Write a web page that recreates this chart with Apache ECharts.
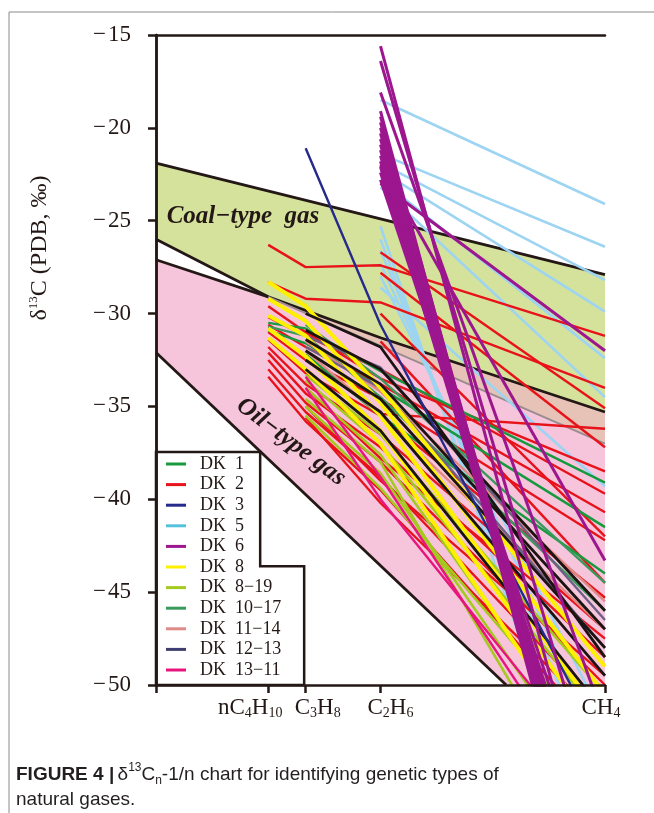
<!DOCTYPE html>
<html>
<head>
<meta charset="utf-8">
<script src="https://cdn.jsdelivr.net/npm/echarts@6.0.0/dist/echarts.min.js"></script>
<style>
html, body { margin: 0; padding: 0; background: #fff; }
#chart { width: 654px; height: 813px; }
</style>
</head>
<body>
<div id="chart"></div>
<script>
// 1/n positions of nC4H10, C3H8, C2H6, CH4
var xInv = [0.25, 1 / 3, 0.5, 1];
var xTickValues = [0, 1 / 3, 0.5, 1];

// zone boundaries [1/n, δ13C]
var coalUpper = [[0, -21.9], [1, -27.9]];
var coalLower = [[0, -26.0], [0.25, -29.1], [0.5, -31.3], [1, -35.3]];
var oilUpper = [[0, -27.1], [0.25, -29.1]];
var mixLower = [[0.25, -29.1], [1, -37.0]];
var oilLower = [[0, -32.1], [0.78, -50]];
var legendBox = [[0, -37.45], [0.232, -37.45], [0.232, -43.6], [0.33, -43.6], [0.33, -50], [0, -50]];

// samples: [δC4, δC3, δC2, δC1]
var dk1 = [
	[-30.5, -30.8, -33.1, -39.1],
	[-30.9, -31.6, -34.0, -41.5],
	[null, -32.2, -35.5, -44.0]
];
var dk2 = [
	[-26.3, -27.5, -27.4, -31.2],
	[-28.3, -29.2, -29.4, -34.0],
	[null, null, -26.7, -35.1],
	[null, null, -27.8, -37.2],
	[null, null, -35.4, -36.2],
	[-29.6, -31.0, -33.5, -38.5],
	[-30.2, -31.2, -33.0, -39.7],
	[-30.6, -31.8, -33.8, -40.7],
	[-31.0, -32.5, -34.6, -42.2],
	[-31.4, -33.2, -35.5, -45.3],
	[-31.8, -33.8, -36.5, -47.0],
	[-32.1, -34.3, -37.2, -48.5],
	[-32.5, -34.8, -38.0, -50.0],
	[-33.0, -35.3, -38.8, -51.5],
	[-33.4, -35.8, -39.5, -53.0],
	[null, -34.0, -37.8, -47.5],
	[null, -35.0, -39.0, -49.5],
	[null, -35.6, -40.2, -52.0],
	[null, null, -31.5, -44.5],
	[null, null, -30.0, -42.0]
];
var dk3 = [
	[null, -21.1, -30.6, -53.5]
];
var dk5 = [
	[null, null, -18.5, -24.1],
	[null, null, -21.4, -26.4],
	[null, null, -21.9, -28.2],
	[null, null, -22.3, -29.9],
	[null, null, -22.8, -32.4],
	[null, null, -23.2, -34.5],
	[null, null, -25.3, -61.0],
	[null, null, -26.0, -59.0],
	[null, null, -26.6, -56.0],
	[null, null, -27.3, -54.0],
	[null, null, -28.0, -52.0],
	[null, null, -28.6, -39.3]
];
var dk6 = [
	[null, null, -15.6, -60.5],
	[null, null, -16.4, -57.5],
	[null, null, -18.1, -52.0],
	[null, null, -19.1, -64.0],
	[null, null, -19.4, -63.0],
	[null, null, -19.7, -64.5],
	[null, null, -20.0, -62.0],
	[null, null, -20.3, -63.5],
	[null, null, -20.6, -61.5],
	[null, null, -20.9, -63.0],
	[null, null, -21.2, -62.0],
	[null, null, -21.5, -61.0],
	[null, null, -21.8, -60.5],
	[null, null, -22.1, -62.0],
	[null, null, -22.4, -60.0],
	[null, null, -22.8, -59.0],
	[null, null, -22.0, -43.3],
	[null, null, -23.0, -32.0]
];
var dk8 = [
	[-28.3, -29.6, -34.0, -49.0],
	[-29.2, -30.4, -34.8, -50.5],
	[-30.1, -31.2, -35.5, -52.0],
	[-30.8, -32.3, -36.3, -53.0],
	[-31.3, -33.0, -37.0, -55.0]
];
var dk819 = [
	[null, -33.3, -36.5, -50.5],
	[null, -33.6, -37.0, -52.0],
	[null, -34.0, -37.6, -54.5],
	[null, -34.6, -38.0, -58.5],
	[null, -35.0, -38.6, -56.0],
	[null, -35.5, -39.4, -53.5]
];
var dk1017 = [
	[null, -30.6, -33.5, -44.5],
	[-30.7, -31.2, -34.5, -46.0]
];
var dk1114 = [
	[null, -31.5, -34.2, -45.5],
	[null, -32.0, -35.5, -47.0]
];
var dk1213 = [
	[null, -31.2, -32.9, -46.5],
	[null, -31.8, -34.0, -48.0]
];
var dk1311 = [
	[null, -33.4, -38.8, -57.0],
	[null, -34.0, -40.0, -55.0]
];
var darkLines = [
	[null, -30.0, -31.8, -48.5],
	[null, -30.9, -33.0, -46.0],
	[null, -31.4, -33.8, -47.0],
	[null, -32.0, -34.6, -48.0],
	[null, -32.5, -35.3, -49.5],
	[null, -33.0, -36.3, -51.5]
];

var ink = '#231815';
var serif = 'Liberation Serif';

function zone(points, color, z, stroke) {
	return {
		type: 'custom',
		silent: true,
		z: z,
		data: [[0, -50]],
		renderItem: function (params, api) {
			return {
				type: 'polygon',
				shape: { points: points.map(function (p) { return api.coord(p); }) },
				style: { fill: color, stroke: stroke || null, lineWidth: stroke ? 2.5 : 0 }
			};
		}
	};
}

function border(points, color, width) {
	return {
		type: 'line', data: points, symbol: 'none', silent: true, z: 2,
		lineStyle: { color: color, width: width }
	};
}

function samples(name, rows, color, width) {
	return rows.map(function (row) {
		var pts = [];
		row.forEach(function (v, i) {
			if (v !== null) pts.push([xInv[i], v]);
		});
		return {
			name: name, type: 'line', data: pts, symbol: 'none', silent: true, z: 3,
			lineStyle: { color: color, width: width }, itemStyle: { color: color }
		};
	});
}

var coalZone = coalUpper.concat(coalLower.slice().reverse());
var oilZone = oilUpper.concat([mixLower[1], [1, -50]], oilLower.slice().reverse());
var mixZone = coalLower.slice(1).concat([mixLower[1]]);

var legendItems = [
	['DK 1', '#179a3f'], ['DK 2', '#e8121a'], ['DK 3', '#262a8a'], ['DK 5', '#55c2dc'],
	['DK 6', '#9c168e'], ['DK 8', '#fff000'], ['DK 8−19', '#a4c91f'], ['DK 10−17', '#3a9a5e'],
	['DK 11−14', '#df8a86'], ['DK 12−13', '#403e70'], ['DK 13−11', '#e8157f']
];

var xLabelText = [
	'{m|nC}{s|4}{m|H}{s|10}{r36| }',
	'{l24| }{m|C}{s|3}{m|H}{s|8}',
	'{l20| }{m|C}{s|2}{m|H}{s|6}',
	'{m|CH}{s|4}{r8| }'
];

var labelRich = {
	m: { fontFamily: serif, fontSize: 23, lineHeight: 24, color: ink },
	s: { fontFamily: serif, fontSize: 14, lineHeight: 6, verticalAlign: 'bottom', color: ink },
	r36: { width: 36 }, r8: { width: 8 }, l24: { width: 24 }, l20: { width: 20 }
};

function xLabel(v) {
	for (var i = 0; i < xInv.length; i++) {
		if (Math.abs(xInv[i] - v) < 1e-6) return xLabelText[i];
	}
	return '';
}

var myChart = echarts.init(document.getElementById('chart'));
var option = {
	backgroundColor: '#fff',
	animation: false,
	grid: { left: 156, right: 49, top: 35, bottom: 128 },
	legend: {
		orient: 'vertical',
		left: 166,
		top: 455,
		padding: 0,
		itemGap: 2.6,
		itemWidth: 20,
		itemHeight: 3,
		icon: 'rect',
		selectedMode: false,
		z: 10,
		textStyle: { fontFamily: serif, fontSize: 18, lineHeight: 18, color: ink, padding: [0, 0, 0, 9] },
		formatter: function (name) { return name.replace(' ', '  '); },
		data: legendItems.map(function (it) {
			return { name: it[0], itemStyle: { color: it[1] } };
		})
	},
	xAxis: [{
		type: 'value', min: 0, max: 1, position: 'bottom', z: 10,
		axisLine: { lineStyle: { color: ink, width: 2.5 } },
		axisTick: { length: 8, lineStyle: { color: ink, width: 2.5 }, customValues: xTickValues },
		splitLine: { show: false },
		axisLabel: {
			customValues: xInv.slice(1), hideOverlap: false, margin: 11, color: ink,
			formatter: xLabel, rich: labelRich
		}
	}, {
		type: 'value', min: 0, max: 1, position: 'top', z: 10,
		axisLine: { lineStyle: { color: ink, width: 2.5 } },
		axisTick: { show: false }, axisLabel: { show: false }, splitLine: { show: false }
	}, {
		type: 'value', min: 0, max: 1, position: 'bottom', z: 10,
		axisLine: { show: false },
		axisTick: { show: true, length: 8, lineStyle: { color: ink, width: 2.5 }, customValues: xInv.slice(0, 1) },
		splitLine: { show: false },
		axisLabel: {
			customValues: xInv.slice(0, 1), hideOverlap: false, margin: 11, color: ink,
			formatter: xLabel, rich: labelRich
		}
	}],
	yAxis: [{
		type: 'value', min: -50, max: -15, interval: 5, z: 10,
		axisLine: { lineStyle: { color: ink, width: 2.5 } },
		axisTick: { length: 8, lineStyle: { color: ink, width: 2.5 } },
		splitLine: { show: false },
		axisLabel: {
			margin: 25, fontFamily: serif, fontSize: 23, color: ink,
			formatter: function (v) { return '\u2212\u200a' + Math.abs(v); }
		}
	}, {
		type: 'value', min: -50, max: -15, position: 'right', z: 10,
		axisLine: { show: true, lineStyle: { color: ink, width: 2.5 } },
		axisTick: { show: false }, axisLabel: { show: false }, splitLine: { show: false }
	}],
	graphic: [
		{ type: 'line', shape: { x1: 9, y1: 12, x2: 654, y2: 12 }, style: { stroke: '#8a8a8a', lineWidth: 1 } },
		{ type: 'line', shape: { x1: 9, y1: 12, x2: 9, y2: 813 }, style: { stroke: '#8a8a8a', lineWidth: 1 } },
		{
			type: 'text', x: 40, y: 248, rotation: Math.PI / 2,
			style: {
				text: '{m|δ}{p|13}{m|C (PDB, ‰)}', align: 'center', verticalAlign: 'middle',
				rich: {
					m: { fontFamily: serif, fontSize: 24, lineHeight: 26, fill: ink },
					p: { fontFamily: serif, fontSize: 13, lineHeight: 10, verticalAlign: 'top', fill: ink }
				}
			}
		},
		{
			type: 'text', x: 243, y: 217, z: 20,
			style: {
				text: 'Coal−type  gas', align: 'center', verticalAlign: 'middle', fill: ink,
				font: 'italic bold 25px "Liberation Serif"'
			}
		},
		{
			type: 'text', x: 291, y: 442, z: 20, rotation: -37 * Math.PI / 180,
			style: {
				text: 'Oil−type gas', align: 'center', verticalAlign: 'middle', fill: ink,
				font: 'italic bold 25px "Liberation Serif"'
			}
		},
		{
			type: 'text', x: 16, y: 762,
			style: {
				text: '{b|FIGURE 4 |} {t|δ}{p|13}{t|C}{s|n}{t|-1/n chart for identifying genetic types of}\n{t|natural gases.}',
				verticalAlign: 'top',
				rich: {
					b: { fontFamily: 'Liberation Sans', fontWeight: 'bold', fontSize: 19, lineHeight: 25, fill: '#231f20' },
					t: { fontFamily: 'Liberation Sans', fontSize: 19, lineHeight: 25, fill: '#231f20' },
					p: { fontFamily: 'Liberation Sans', fontSize: 12, lineHeight: 17, verticalAlign: 'top', fill: '#231f20' },
					s: { fontFamily: 'Liberation Sans', fontSize: 12, lineHeight: 11, verticalAlign: 'bottom', fill: '#231f20' }
				}
			}
		}
	],
	series: [].concat(
		zone(coalZone, '#d5e29c', 1),
		zone(oilZone, '#f6c5dc', 1),
		zone(mixZone, '#e6c3b6', 1),
		border(coalUpper, ink, 2.8),
		border(coalLower, ink, 2.8),
		border(oilUpper, ink, 2.8),
		border(mixLower, '#9a8c8e', 2),
		border(oilLower, ink, 2.8),
		samples('DK 5', dk5, '#9dd4f2', 2.6),
		samples('DK 2', dk2, '#e8121a', 2.4),
		samples('DK 1', dk1, '#179a3f', 2.4),
		samples('DK 10−17', dk1017, '#3a9a5e', 2.4),
		samples('DK 11−14', dk1114, '#df8a86', 2.4),
		samples('DK 12−13', dk1213, '#6e5f86', 2.4),
		samples('DK 8−19', dk819, '#a4c91f', 2.6),
		samples('DK 13−11', dk1311, '#e8157f', 2.4),
		samples('DK 8', dk8, '#fff000', 4),
		samples('dark', darkLines, '#1c1412', 2.8),
		samples('DK 3', dk3, '#262a8a', 2.4),
		samples('DK 6', dk6, '#9c168e', 3),
		zone(legendBox, '#fff', 5, ink)
	)
};
myChart.setOption(option);
</script>
</body>
</html>
